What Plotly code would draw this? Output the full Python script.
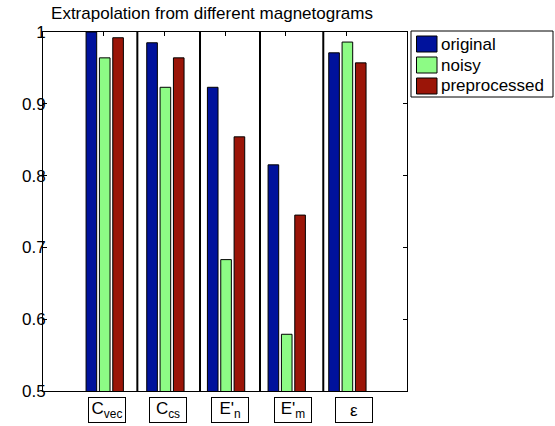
import plotly.graph_objects as go

# Metric names (rendered inside boxed labels under each group)
categories = ["C<sub>vec</sub>", "C<sub>cs</sub>", "E'<sub>n</sub>", "E'<sub>m</sub>", "ε"]
positions = [1, 2, 3, 4, 5]

# Scores for each magnetogram variant
original = [1.0, 0.985, 0.923, 0.815, 0.971]
noisy = [0.964, 0.923, 0.683, 0.579, 0.986]
preprocessed = [0.992, 0.964, 0.854, 0.745, 0.957]

series_names = ["original", "noisy", "preprocessed"]
series_colors = ["#00129C", "#8DFB85", "#9B1508"]
series_offsets = [-0.29, -0.07, 0.15]
bar_width = 0.175

# Group separators (x positions in data units)
separators = [1.555, 2.588, 3.577, 4.62]
# Centers of the boxed category labels (data units)
label_x = [1.05, 2.06, 3.09, 4.12, 5.13]

FONT = "Liberation Sans, Arial, Helvetica, sans-serif"

fig = go.Figure()
for name, vals, color, off in zip(series_names, [original, noisy, preprocessed],
                                  series_colors, series_offsets):
    fig.add_trace(go.Bar(
        x=positions, y=vals, name=name, width=bar_width, offset=off,
        marker=dict(color=color, line=dict(color="black", width=1)),
        showlegend=False,
    ))

# Plot-area geometry in pixels, used to place the legend box in paper units
L, R, T, B = 43, 407, 32, 391
def px(x):
    return (x - L) / (R - L)
def py(y):
    return (B - y) / (B - T)

shapes = []
for s in separators:
    shapes.append(dict(type="line", xref="x", yref="paper", x0=s, x1=s, y0=0, y1=1,
                       line=dict(color="black", width=2), layer="above"))

# Legend box
shapes.append(dict(type="rect", xref="paper", yref="paper",
                   x0=px(411), x1=px(553), y0=py(31), y1=py(97),
                   line=dict(color="black", width=1), fillcolor="white"))
annotations = []
row_tops = [36, 57, 78]
for name, color, top in zip(series_names, series_colors, row_tops):
    shapes.append(dict(type="rect", xref="paper", yref="paper",
                       x0=px(416.5), x1=px(437), y0=py(top), y1=py(top + 16),
                       line=dict(color="black", width=1), fillcolor=color))
    annotations.append(dict(xref="paper", yref="paper", x=px(439), y=py(top + 8),
                            text=name, showarrow=False, xanchor="left", yanchor="middle",
                            font=dict(family=FONT, size=17, color="black")))

# Boxed category labels below the axis
for cx, lab in zip(label_x, categories):
    annotations.append(dict(xref="x", yref="paper", x=cx, y=py(409.5),
                            text=lab, showarrow=False, xanchor="center", yanchor="middle",
                            width=34, height=22, bordercolor="black", borderwidth=1,
                            borderpad=1, bgcolor="white",
                            font=dict(family=FONT, size=17, color="black")))

fig.update_layout(
    width=555, height=426,
    margin=dict(l=L, r=555 - R, t=T, b=426 - B),
    paper_bgcolor="white", plot_bgcolor="white",
    barmode="overlay",
    title=dict(text="Extrapolation from different magnetograms",
               x=212 / 555, xanchor="center", xref="container",
               y=1 - 13 / 426, yanchor="middle", yref="container",
               font=dict(family=FONT, size=17, color="black")),
    font=dict(family=FONT, size=17, color="black"),
    shapes=shapes, annotations=annotations,
    xaxis=dict(range=[0, 6], tickvals=positions, showticklabels=False,
               ticks="inside", ticklen=4, tickcolor="black",
               showline=True, linecolor="black", linewidth=1, mirror="ticks",
               showgrid=False, zeroline=False, layer="below traces", fixedrange=True),
    yaxis=dict(range=[0.5, 1], tickvals=[0.5, 0.6, 0.7, 0.8, 0.9, 1.0],
               ticktext=["0.5", "0.6", "0.7", "0.8", "0.9", "1"],
               ticks="inside", ticklen=4, tickcolor="black", ticklabelstandoff=-7,
               showline=True, linecolor="black", linewidth=1, mirror="ticks",
               showgrid=False, zeroline=False, layer="below traces",
               tickfont=dict(family=FONT, size=17, color="black"), fixedrange=True),
)

fig.write_html("out.html")
